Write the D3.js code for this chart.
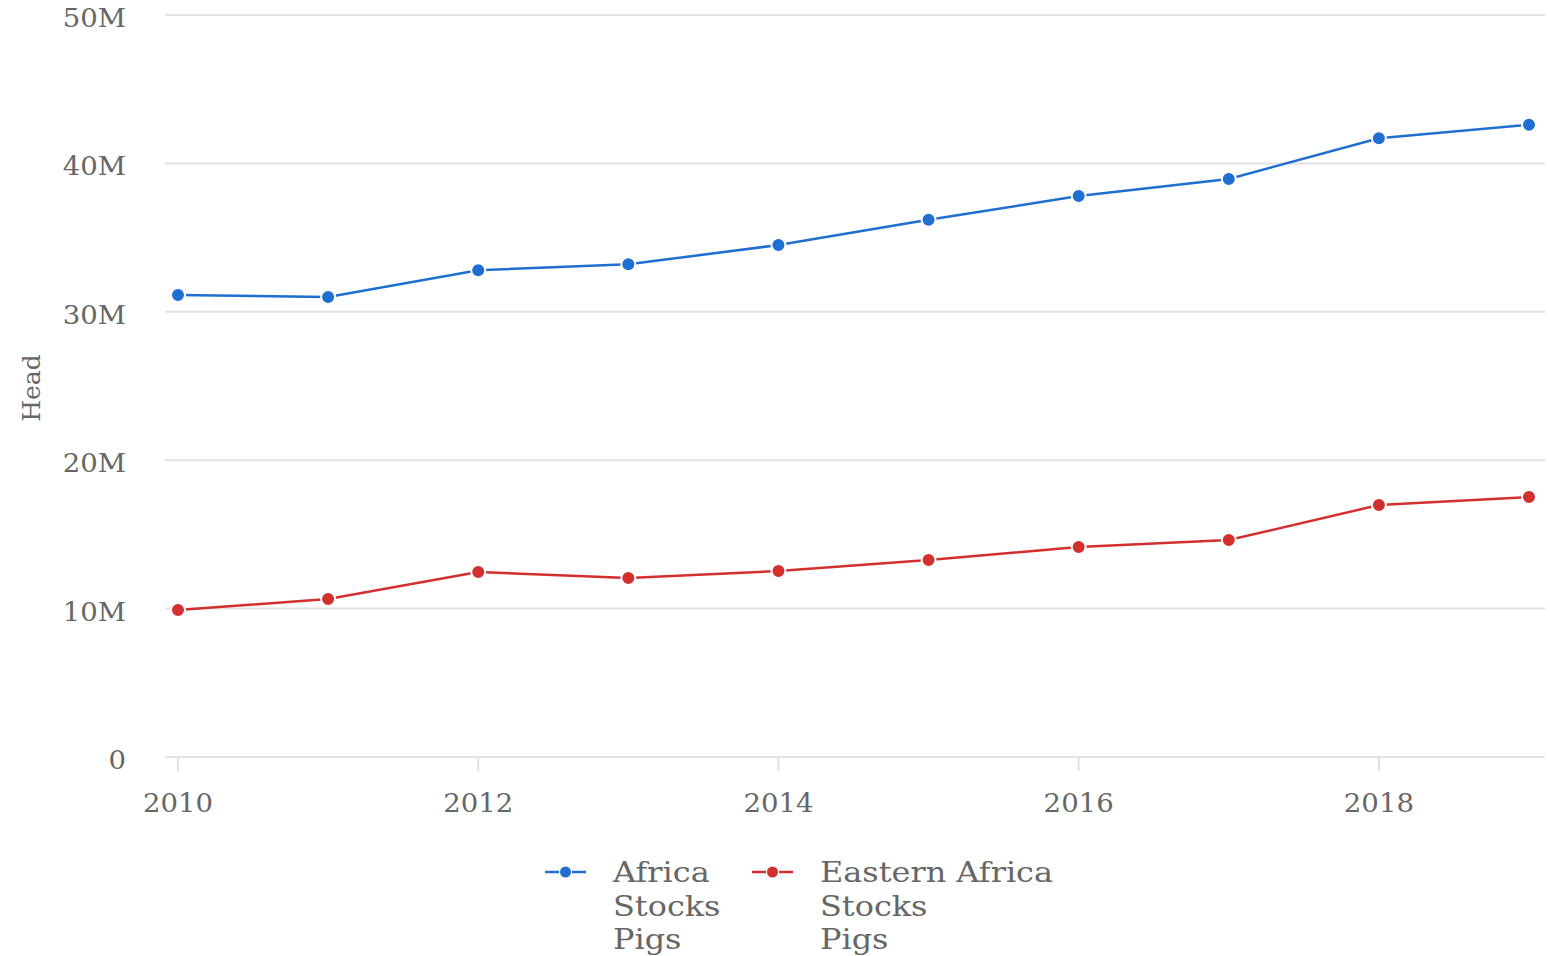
<!DOCTYPE html>
<html>
<head>
<meta charset="utf-8">
<script src="https://cdn.jsdelivr.net/npm/d3@7"></script>
<style>
  body { margin: 0; background: #fff; }
  svg text { font-family: "DejaVu Serif", serif; fill: #666; }
</style>
</head>
<body>
<svg id="chart" width="1550" height="956"></svg>
<script>
// data
const years = [2010, 2011, 2012, 2013, 2014, 2015, 2016, 2017, 2018, 2019];
const africa = [31.13, 31.0, 32.8, 33.2, 34.5, 36.2, 37.8, 38.95, 41.7, 42.6];      // millions
const eastAfrica = [9.9, 10.65, 12.47, 12.06, 12.53, 13.27, 14.15, 14.62, 16.98, 17.52];
const yTicks = [0, 10, 20, 30, 40, 50];
const xTicks = [2010, 2012, 2014, 2016, 2018];

const series = [
  { name: ["Africa", "Stocks", "Pigs"], values: africa, color: "#1f6fd1" },
  { name: ["Eastern Africa", "Stocks", "Pigs"], values: eastAfrica, color: "#d32f2f" }
];

const svg = d3.select("#chart");
const left = 165, right = 1545;

const x = d3.scaleLinear().domain([2010, 2019]).range([178, 1529]);
const y = d3.scaleLinear().domain([0, 50]).range([757, 15]);

// text in the picture is a bit wider than the font, so stretch it
function tpos(px, py, sx) {
  return "translate(" + px + "," + py + ") scale(" + sx + ",1)";
}

// gridlines
svg.append("g").selectAll("line")
  .data(yTicks)
  .join("line")
  .attr("x1", left).attr("x2", right)
  .attr("y1", d => y(d)).attr("y2", d => y(d))
  .attr("stroke", "#e2e2e2").attr("stroke-width", 2);

// y labels
svg.append("g").selectAll("text")
  .data(yTicks)
  .join("text")
  .attr("transform", d => tpos(126, y(d) + 12, 1.06))
  .attr("text-anchor", "end")
  .style("font-size", "26px")
  .text(d => d === 0 ? "0" : d + "M");

// x axis ticks + labels
let xg = svg.append("g");
xg.selectAll("line")
  .data(xTicks)
  .join("line")
  .attr("x1", d => x(d)).attr("x2", d => x(d))
  .attr("y1", 757).attr("y2", 771)
  .attr("stroke", "#e2e2e2").attr("stroke-width", 2);
xg.selectAll("text")
  .data(xTicks)
  .join("text")
  .attr("transform", d => tpos(x(d), 812, 1.06))
  .attr("text-anchor", "middle")
  .style("font-size", "26px")
  .text(d => d);

// y title
svg.append("text")
  .attr("transform", "translate(40,388) rotate(-90)")
  .attr("text-anchor", "middle")
  .style("font-size", "25px")
  .text("Head");

const line = d3.line()
  .x((d, i) => x(years[i]))
  .y(d => y(d));

series.forEach(function(s) {
  svg.append("path")
    .datum(s.values)
    .attr("d", line)
    .attr("fill", "none")
    .attr("stroke", s.color)
    .attr("stroke-width", 2.5);

  svg.append("g").selectAll("circle")
    .data(s.values)
    .join("circle")
    .attr("cx", (d, i) => x(years[i]))
    .attr("cy", d => y(d))
    .attr("r", 7)
    .attr("fill", s.color)
    .attr("stroke", "#fff")
    .attr("stroke-width", 2);
});

// legend
const legendX = [545, 752];
series.forEach(function(s, k) {
  let g = svg.append("g").attr("transform", "translate(" + legendX[k] + ",872)");
  g.append("line").attr("x1", 0).attr("x2", 14).attr("y1", 0).attr("y2", 0)
    .attr("stroke", s.color).attr("stroke-width", 2.5);
  g.append("line").attr("x1", 27).attr("x2", 41).attr("y1", 0).attr("y2", 0)
    .attr("stroke", s.color).attr("stroke-width", 2.5);
  g.append("circle").attr("cx", 20.5).attr("cy", 0).attr("r", 5.5).attr("fill", s.color);
  g.selectAll("text")
    .data(s.name)
    .join("text")
    .attr("transform", (d, i) => tpos(68, 10 + i * 33.5, 1.14))
    .style("font-size", "28px")
    .text(d => d);
});
</script>
</body>
</html>
